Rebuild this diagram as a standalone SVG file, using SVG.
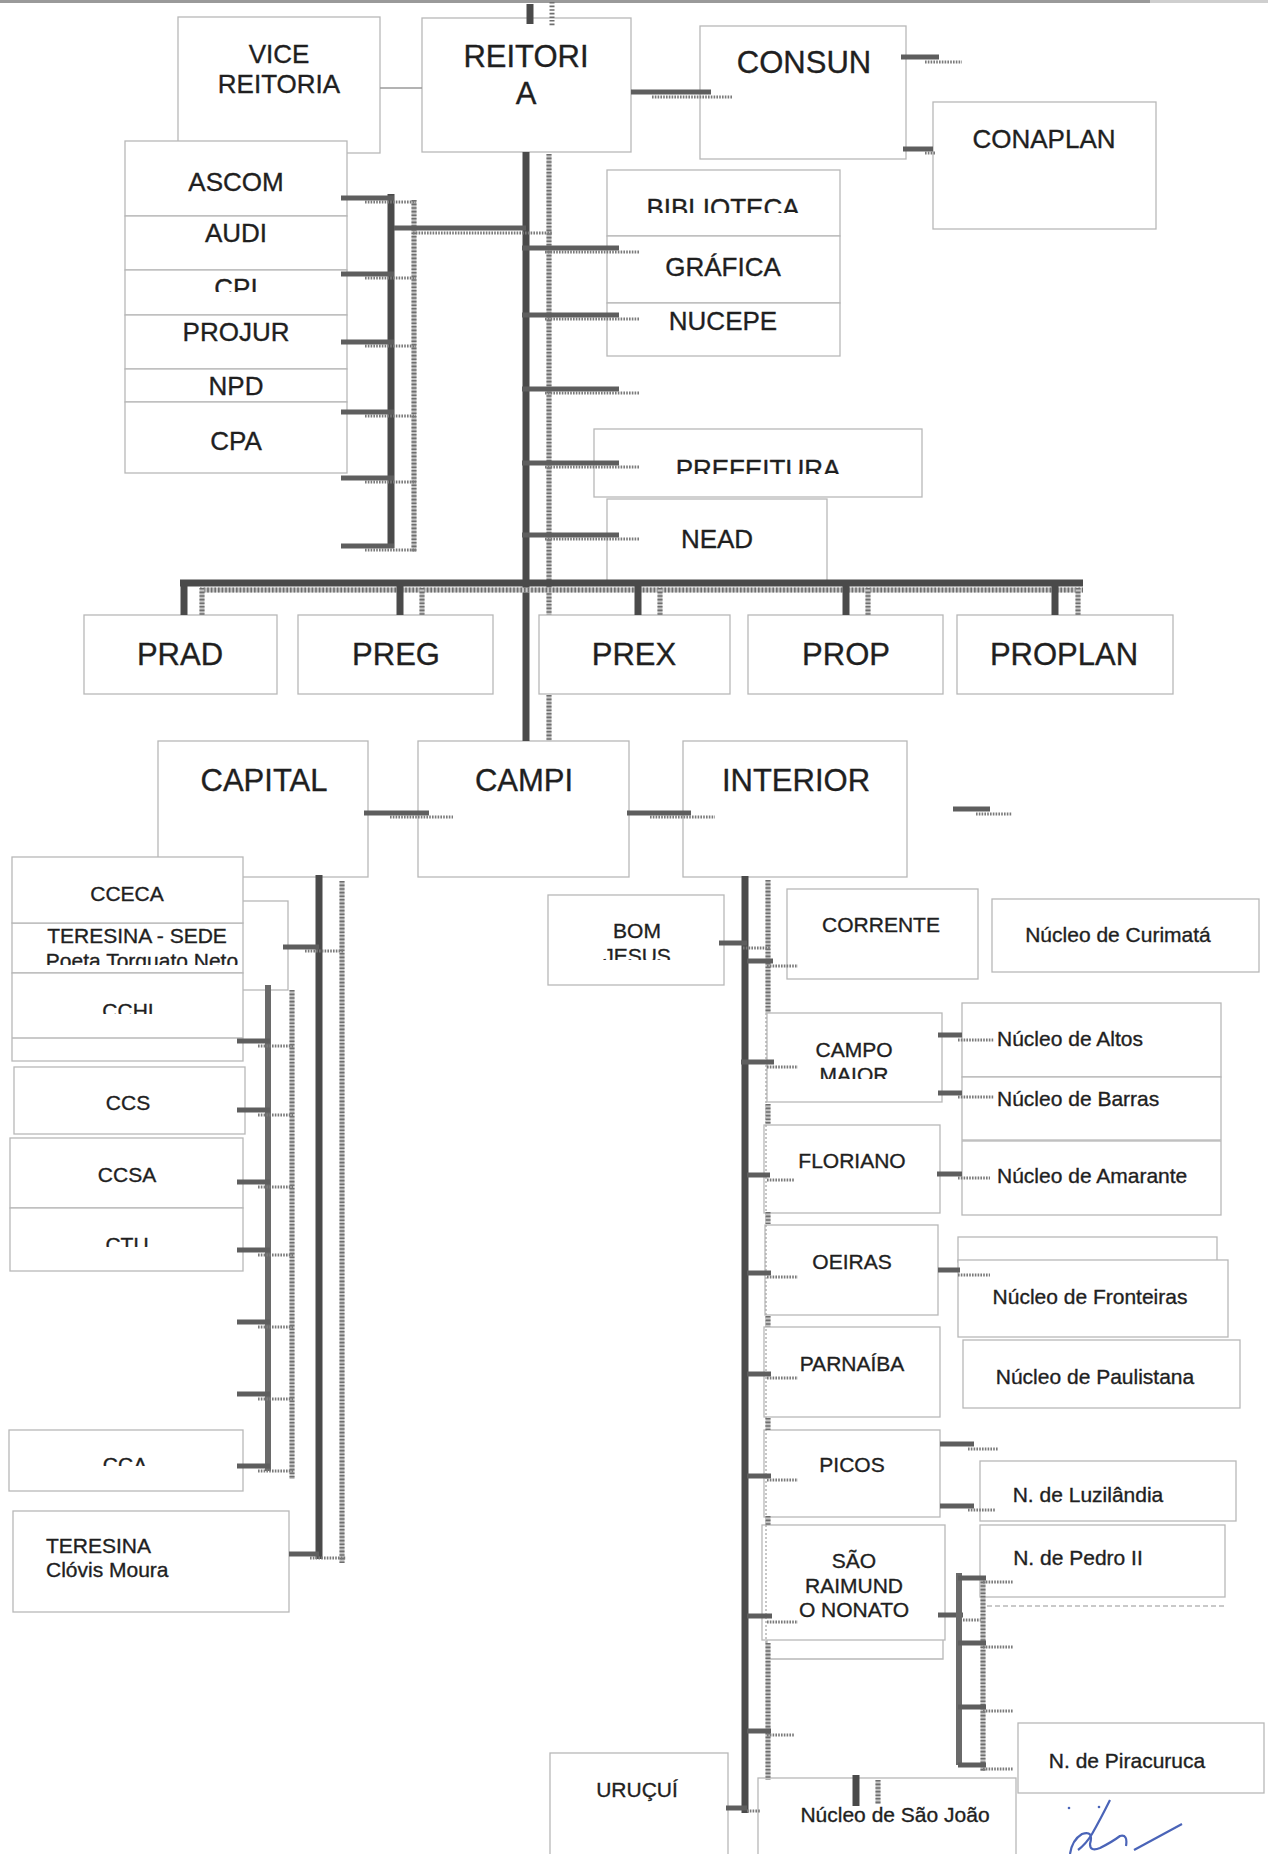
<svg xmlns="http://www.w3.org/2000/svg" width="1268" height="1854" viewBox="0 0 1268 1854">
<style>
.b{fill:#fff;stroke:#b8b8b8;stroke-width:1.3}
.ln{fill:none;stroke:#b8b8b8;stroke-width:1.3}
.dl{fill:none;stroke:#b8b8b8;stroke-width:1.3;stroke-dasharray:5 3}
text{font-family:"Liberation Sans",Arial,sans-serif;fill:#1f1f1f;stroke:#1f1f1f;stroke-width:0.35;text-anchor:middle}
.f31{font-size:31px}.f26{font-size:26px}.f21{font-size:21px}
.st{text-anchor:start}
.d{stroke:#4a4a4a;stroke-width:7;fill:none}
.d6{stroke:#6a6a6a;stroke-width:6;fill:none}
.k{stroke:#5e5e5e;stroke-width:5;fill:none}
.gb{stroke:#c4c4c4;stroke-width:5;fill:none}
.g{stroke:#6e6e6e;stroke-width:5;stroke-dasharray:1.6 2;fill:none}
.t{stroke:#7a7a7a;stroke-width:3;stroke-dasharray:1.6 1.2;fill:none}
.thin{stroke:#9a9a9a;stroke-width:1.5;fill:none}
.td{stroke:#a8a8a8;stroke-width:1.3;stroke-dasharray:2 2;fill:none}
</style>
<defs>
<clipPath id="cCPI"><rect x="125" y="260" width="222" height="32"/></clipPath>
<clipPath id="cBIB"><rect x="607" y="180" width="233" height="33"/></clipPath>
<clipPath id="cPRE"><rect x="594" y="440" width="328" height="34"/></clipPath>
<clipPath id="cPTN"><rect x="12" y="945" width="240" height="20"/></clipPath>
<clipPath id="cCCHI"><rect x="12" y="990" width="231" height="24"/></clipPath>
<clipPath id="cCTU"><rect x="10" y="1220" width="233" height="27"/></clipPath>
<clipPath id="cCCA"><rect x="9" y="1440" width="234" height="26"/></clipPath>
<clipPath id="cJES"><rect x="548" y="940" width="176" height="20"/></clipPath>
<clipPath id="cMAI"><rect x="767" y="1060" width="175" height="19"/></clipPath>
</defs>
<rect x="0" y="0" width="1268" height="1854" fill="#fff"/>

<g id="node-vice-reitoria"><rect class="b" x="178" y="17" width="202" height="136"/><text class="f26" x="279" y="63">VICE</text><text class="f26" x="279" y="93">REITORIA</text></g>
<g id="node-reitoria"><rect class="b" x="422" y="18" width="209" height="134"/><text class="f31" x="526" y="67">REITORI</text><text class="f31" x="526" y="104">A</text></g>
<g id="node-consun"><rect class="b" x="700" y="26" width="206" height="133"/><text class="f31" x="804" y="73">CONSUN</text></g>
<g id="node-conaplan"><rect class="b" x="933" y="102" width="223" height="127"/><text class="f26" x="1044" y="148">CONAPLAN</text></g>

<g id="node-ascom"><rect class="b" x="125" y="141" width="222" height="75"/><text class="f26" x="236" y="191">ASCOM</text></g>
<g id="node-audi"><rect class="b" x="125" y="216" width="222" height="54"/><text class="f26" x="236" y="242">AUDI</text></g>
<g id="node-cpi"><rect class="b" x="125" y="270" width="222" height="45"/><text class="f26" x="236" y="297" clip-path="url(#cCPI)">CPI</text></g>
<g id="node-projur"><rect class="b" x="125" y="315" width="222" height="54"/><text class="f26" x="236" y="341">PROJUR</text></g>
<g id="node-npd"><rect class="b" x="125" y="369" width="222" height="33"/><text class="f26" x="236" y="395">NPD</text></g>
<g id="node-cpa"><rect class="b" x="125" y="402" width="222" height="71"/><text class="f26" x="236" y="450">CPA</text></g>

<g id="node-biblioteca"><rect class="b" x="607" y="170" width="233" height="66"/><text class="f26" x="723" y="217" clip-path="url(#cBIB)">BIBLIOTECA</text></g>
<g id="node-grafica"><rect class="b" x="607" y="236" width="233" height="67"/><text class="f26" x="723" y="276">GRÁFICA</text></g>
<g id="node-nucepe"><rect class="b" x="607" y="303" width="233" height="53"/><text class="f26" x="723" y="330">NUCEPE</text></g>
<g id="node-prefeitura"><rect class="b" x="594" y="429" width="328" height="68"/><text class="f26" x="758" y="478" clip-path="url(#cPRE)">PREFEITURA</text></g>
<g id="node-nead"><rect class="b" x="607" y="499" width="220" height="84"/><text class="f26" x="717" y="548">NEAD</text></g>

<g id="node-prad"><rect class="b" x="84" y="615" width="193" height="79"/><text class="f31" x="180" y="665">PRAD</text></g>
<g id="node-preg"><rect class="b" x="298" y="615" width="195" height="79"/><text class="f31" x="396" y="665">PREG</text></g>
<g id="node-prex"><rect class="b" x="539" y="615" width="191" height="79"/><text class="f31" x="634" y="665">PREX</text></g>
<g id="node-prop"><rect class="b" x="748" y="615" width="195" height="79"/><text class="f31" x="846" y="665">PROP</text></g>
<g id="node-proplan"><rect class="b" x="957" y="615" width="216" height="79"/><text class="f31" x="1064" y="665">PROPLAN</text></g>

<g id="node-capital"><rect class="b" x="158" y="741" width="210" height="136"/><text class="f31" x="264" y="791">CAPITAL</text></g>
<g id="node-campi"><rect class="b" x="418" y="741" width="211" height="136"/><text class="f31" x="524" y="791">CAMPI</text></g>
<g id="node-interior"><rect class="b" x="683" y="741" width="224" height="136"/><text class="f31" x="796" y="791">INTERIOR</text></g>

<g id="node-teresina-sede"><rect class="b" x="13" y="901" width="275" height="89"/><rect class="b" x="12" y="923" width="231" height="50"/><text class="f21" x="137" y="943">TERESINA - SEDE</text><text class="f21" x="142" y="968" clip-path="url(#cPTN)">Poeta Torquato Neto</text></g>
<g id="node-cceca"><rect class="b" x="12" y="857" width="231" height="66"/><text class="f21" x="127" y="901">CCECA</text></g>
<g id="node-cchi"><rect class="b" x="12" y="973" width="231" height="88"/><line class="ln" x1="12" y1="1038" x2="243" y2="1038"/><text class="f21" x="128" y="1018" clip-path="url(#cCCHI)">CCHI</text></g>
<g id="node-ccs"><rect class="b" x="14" y="1067" width="231" height="67"/><text class="f21" x="128" y="1110">CCS</text></g>
<g id="node-ccsa"><rect class="b" x="10" y="1138" width="233" height="70"/><text class="f21" x="127" y="1182">CCSA</text></g>
<g id="node-ctu"><rect class="b" x="10" y="1208" width="233" height="63"/><text class="f21" x="127" y="1252" clip-path="url(#cCTU)">CTU</text></g>
<g id="node-cca"><rect class="b" x="9" y="1430" width="234" height="61"/><text class="f21" x="125" y="1472" clip-path="url(#cCCA)">CCA</text></g>
<g id="node-clovis-moura"><rect class="b" x="13" y="1511" width="276" height="101"/><text class="f21 st" x="46" y="1553">TERESINA</text><text class="f21 st" x="46" y="1577">Clóvis Moura</text></g>

<g id="node-bom-jesus"><rect class="b" x="548" y="895" width="176" height="90"/><text class="f21" x="637" y="938">BOM</text><text class="f21" x="637" y="963" clip-path="url(#cJES)">JESUS</text></g>
<g id="node-corrente"><rect class="b" x="787" y="889" width="191" height="90"/><text class="f21" x="881" y="932">CORRENTE</text></g>
<g id="node-curimata"><rect class="b" x="992" y="899" width="267" height="73"/><text class="f21" x="1118" y="942">Núcleo de Curimatá</text></g>
<g id="node-campo-maior"><rect class="b" x="767" y="1013" width="175" height="89"/><text class="f21" x="854" y="1057">CAMPO</text><text class="f21" x="854" y="1082" clip-path="url(#cMAI)">MAIOR</text></g>
<g id="node-altos"><rect class="b" x="962" y="1003" width="259" height="74"/><text class="f21 st" x="997" y="1046">Núcleo de Altos</text></g>
<g id="node-barras"><rect class="b" x="962" y="1077" width="259" height="63"/><text class="f21 st" x="997" y="1106">Núcleo de Barras</text></g>
<g id="node-floriano"><rect class="b" x="764" y="1125" width="176" height="88"/><text class="f21" x="852" y="1168">FLORIANO</text></g>
<g id="node-amarante"><rect class="b" x="962" y="1141" width="259" height="74"/><text class="f21 st" x="997" y="1183">Núcleo de Amarante</text></g>
<g id="node-oeiras"><rect class="b" x="765" y="1225" width="173" height="90"/><text class="f21" x="852" y="1269">OEIRAS</text></g>
<g id="node-fronteiras"><rect class="b" x="958" y="1237" width="259" height="25"/><rect class="b" x="958" y="1260" width="270" height="77"/><text class="f21" x="1090" y="1304">Núcleo de Fronteiras</text></g>
<g id="node-paulistana"><rect class="b" x="963" y="1340" width="277" height="68"/><text class="f21" x="1095" y="1384">Núcleo de Paulistana</text></g>
<g id="node-parnaiba"><rect class="b" x="764" y="1327" width="176" height="90"/><text class="f21" x="852" y="1371">PARNAÍBA</text></g>
<g id="node-picos"><rect class="b" x="764" y="1430" width="176" height="87"/><text class="f21" x="852" y="1472">PICOS</text></g>
<g id="node-luzilandia"><rect class="b" x="980" y="1461" width="256" height="60"/><text class="f21" x="1088" y="1502">N. de Luzilândia</text></g>
<g id="node-pedro-ii"><rect class="b" x="980" y="1525" width="245" height="72"/><line class="dl" x1="987" y1="1606" x2="1225" y2="1606"/><text class="f21" x="1078" y="1565">N. de Pedro II</text></g>
<g id="node-sao-raimundo-nonato"><path class="ln" d="M767 1640 V1659 H943 V1640"/><rect class="b" x="762" y="1525" width="183" height="115"/><text class="f21" x="854" y="1568">SÃO</text><text class="f21" x="854" y="1593">RAIMUND</text><text class="f21" x="854" y="1617">O NONATO</text></g>
<g id="node-piracuruca"><rect class="b" x="1018" y="1723" width="246" height="70"/><text class="f21" x="1127" y="1768">N. de Piracuruca</text></g>
<g id="node-urucui"><rect class="b" x="550" y="1753" width="178" height="110"/><text class="f21" x="637" y="1797">URUÇUÍ</text></g>
<g id="node-sao-joao"><rect class="b" x="758" y="1778" width="258" height="85"/><text class="f21" x="895" y="1822">Núcleo de São João</text></g>

<g id="connectors">
<line x1="0" y1="1.5" x2="1150" y2="1.5" stroke="#9a9a9a" stroke-width="3"/>
<line x1="1150" y1="1.5" x2="1268" y2="1.5" stroke="#cfcfcf" stroke-width="3"/>
<line class="d" x1="530" y1="4" x2="530" y2="24" stroke-width="6"/>
<line class="g" x1="552" y1="2" x2="552" y2="26" stroke-width="4"/>
<line class="thin" x1="380" y1="88" x2="422" y2="88"/>
<line class="k" x1="631" y1="92" x2="711" y2="92"/><line class="t" x1="652" y1="97" x2="733" y2="97"/>
<line class="k" x1="901" y1="57" x2="939" y2="57"/><line class="t" x1="925" y1="62" x2="962" y2="62"/>
<line class="k" x1="903" y1="149" x2="933" y2="149"/><line class="t" x1="925" y1="153" x2="936" y2="153"/>
<line class="d" x1="526" y1="152" x2="526" y2="741"/>
<path class="gb" d="M549 154V615M549 695V741"/>
<path class="g" d="M549 154V615M549 695V741"/>
<path class="k" d="M522 248H619M522 315H619M522 389H619M522 463H619M522 535H619"/>
<path class="t" d="M545 252H640M545 319H640M545 393H640M545 467H640M545 539H640"/>
<line class="d" x1="391" y1="194" x2="391" y2="548" stroke-width="6"/>
<line class="gb" x1="414" y1="200" x2="414" y2="552"/>
<line class="g" x1="414" y1="200" x2="414" y2="552"/>
<path class="k" d="M341 198H394M341 274H394M341 342H394M341 412H394M341 478H394M341 546H394"/>
<path class="t" d="M365 202H416M365 278H416M365 346H416M365 416H416M365 482H416M365 550H416"/>
<line class="k" x1="394" y1="228" x2="526" y2="228" stroke-width="6"/>
<line class="t" x1="413" y1="233" x2="552" y2="233"/>
<line class="d" x1="180" y1="583" x2="1083" y2="583" stroke-width="8"/>
<line class="gb" x1="200" y1="590" x2="1083" y2="590" stroke-width="4"/>
<line class="g" x1="200" y1="590" x2="1083" y2="590" stroke-width="4"/>
<path class="d" d="M184 583V615M400 583V615M638 583V615M846 583V615M1055 583V615"/>
<path class="gb" stroke-width="4" d="M202 588V615M422 588V615M660 588V615M868 588V615M1078 588V615"/>
<path class="g" stroke-width="4" d="M202 588V615M422 588V615M660 588V615M868 588V615M1078 588V615"/>
<line class="k" x1="364" y1="813" x2="429" y2="813"/><line class="t" x1="390" y1="817" x2="453" y2="817"/>
<line class="k" x1="627" y1="813" x2="691" y2="813"/><line class="t" x1="650" y1="817" x2="715" y2="817"/>
<line class="k" x1="953" y1="809" x2="990" y2="809"/><line class="t" x1="976" y1="814" x2="1012" y2="814"/>
<line class="d" x1="319" y1="875" x2="319" y2="1559"/>
<line class="gb" x1="342" y1="881" x2="342" y2="1563"/>
<line class="g" x1="342" y1="881" x2="342" y2="1563"/>
<line class="k" x1="283" y1="947" x2="319" y2="947"/><line class="t" x1="305" y1="951" x2="343" y2="951"/>
<line class="d6" x1="268" y1="985" x2="268" y2="1471"/>
<line class="gb" x1="292" y1="990" x2="292" y2="1479"/>
<line class="g" x1="292" y1="990" x2="292" y2="1479"/>
<path class="k" d="M237 1041H270M237 1110H270M237 1182H270M237 1250H270M237 1322H270M237 1394H270M237 1466H270"/>
<path class="t" d="M258 1046H293M258 1115H293M258 1187H293M258 1255H293M258 1327H293M258 1399H293M258 1471H293"/>
<line class="k" x1="289" y1="1554" x2="319" y2="1554"/><line class="t" x1="310" y1="1558" x2="346" y2="1558"/>
<line class="d" x1="745" y1="876" x2="745" y2="1813"/>
<line class="td" x1="766" y1="1013" x2="766" y2="1643"/>
<path class="gb" d="M768 880V1013M768 1104V1124M768 1212V1224M768 1316V1327M768 1418V1430M768 1516V1525M768 1643V1780"/>
<path class="g" d="M768 880V1013M768 1104V1124M768 1212V1224M768 1316V1327M768 1418V1430M768 1516V1525M768 1643V1780"/>
<line class="k" x1="719" y1="943" x2="747" y2="943"/><line class="t" x1="743" y1="948" x2="771" y2="948"/>
<path class="k" d="M747 961H773M741 1062H774M747 1175H770M747 1273H771M747 1374H771M747 1476H771M747 1616H772M747 1731H771"/>
<path class="t" d="M767 966H798M767 1067H798M767 1180H795M767 1277H798M767 1378H798M767 1480H798M767 1622H798M767 1735H794"/>
<line class="k" x1="726" y1="1808" x2="747" y2="1808"/><line class="t" x1="747" y1="1811" x2="760" y2="1811"/>
<path class="k" d="M938 1035H962M938 1093H962M937 1174H962M938 1270H960M940 1444H974M940 1506H974"/>
<path class="t" d="M958 1040H994M958 1097H994M958 1178H990M958 1275H990M968 1449H998M968 1510H996"/>
<line class="k" x1="938" y1="1615" x2="963" y2="1615"/><line class="t" x1="963" y1="1620" x2="985" y2="1620"/>
<line class="d6" x1="959" y1="1573" x2="959" y2="1765"/>
<line class="gb" x1="983" y1="1578" x2="983" y2="1771"/>
<line class="g" x1="983" y1="1578" x2="983" y2="1771"/>
<path class="k" d="M958 1578H986M958 1643H986M958 1707H986M958 1765H986"/>
<path class="t" d="M983 1582H1013M983 1647H1013M983 1711H1013M983 1769H1013"/>
<line class="d" x1="856" y1="1775" x2="856" y2="1806" stroke-width="5"/>
<line class="gb" x1="878" y1="1780" x2="878" y2="1804" stroke-width="4"/>
<line class="g" x1="878" y1="1780" x2="878" y2="1804" stroke-width="4"/>
</g>
<path d="M1110 1800 Q1100 1820 1092 1834 Q1086 1844 1078 1850 M1070 1854 Q1072 1840 1082 1834 Q1094 1830 1090 1844 Q1090 1852 1100 1848 Q1112 1842 1120 1836 Q1128 1834 1126 1846 M1134 1850 Q1156 1838 1182 1824" fill="none" stroke="#4a64b8" stroke-width="2.2"/>
<circle cx="1069" cy="1808" r="1.3" fill="#4a64b8"/><circle cx="1099" cy="1807" r="1.3" fill="#4a64b8"/>
</svg>
